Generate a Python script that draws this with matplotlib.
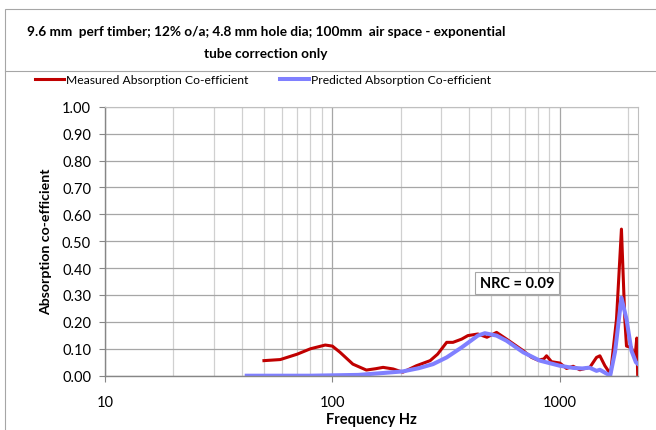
import matplotlib.pyplot as plt
from matplotlib.patches import Rectangle
from matplotlib.lines import Line2D
from matplotlib.ticker import FixedLocator, NullFormatter

# measured absorption
meas_f = [50, 59, 70, 80, 93, 100, 108, 123, 141, 155, 167, 185, 204, 234, 269,
          290, 318, 339, 370, 394, 436, 478, 527, 583, 690, 751, 800, 850, 874,
          919, 1000, 1070, 1144, 1224, 1355, 1450, 1500, 1578, 1670, 1775, 1866,
          1931, 1964, 2065, 2137, 2180, 2200]
meas_a = [0.056, 0.060, 0.080, 0.100, 0.114, 0.110, 0.087, 0.043, 0.021, 0.026,
          0.031, 0.025, 0.013, 0.037, 0.056, 0.080, 0.124, 0.124, 0.136, 0.149,
          0.155, 0.143, 0.161, 0.136, 0.093, 0.068, 0.058, 0.062, 0.074, 0.052,
          0.047, 0.027, 0.035, 0.022, 0.031, 0.068, 0.074, 0.037, 0.006, 0.210,
          0.545, 0.210, 0.110, 0.105, 0.062, 0.140, 0.000]

# predicted absorption
pred_f = [42, 80, 130, 167, 204, 240, 277, 318, 370, 436, 468, 527, 583, 690,
          817, 1000, 1144, 1255, 1350, 1450, 1500, 1665, 1750, 1866, 1964, 2065,
          2160, 2195]
pred_a = [0.0, 0.0, 0.003, 0.010, 0.016, 0.028, 0.043, 0.068, 0.105, 0.149,
          0.158, 0.149, 0.130, 0.087, 0.056, 0.037, 0.029, 0.027, 0.030, 0.018,
          0.022, 0.0, 0.090, 0.290, 0.210, 0.093, 0.050, 0.045]

title = "9.6 mm  perf timber; 12% o/a; 4.8 mm hole dia; 100mm  air space - exponential\ntube correction only"
font = "Lato"

fig = plt.figure(figsize=(6.56, 4.31), dpi=100)
W, H = 656, 431

# chart border (cut off on the right and bottom) and title box
fig.patches.append(Rectangle((5 / W, -10 / H), 700 / W, 431 / H, transform=fig.transFigure,
                             fill=False, edgecolor="#a6a6a6", lw=0.8))
fig.lines.append(Line2D([5 / W, 1], [1 - 72 / H, 1 - 72 / H], transform=fig.transFigure,
                        color="#a6a6a6", lw=0.8))
fig.text(266 / W, 1 - 42.5 / H, title, ha="center", ma="center", va="center", fontsize=9.8,
         fontweight="bold", family=font, linespacing=2.0)

ax = fig.add_axes([105 / W, 1 - 376.7 / H, 532.7 / W, 269 / H])
ax.plot(meas_f, meas_a, color="#c00000", lw=2.2, label="Measured Absorption Co-efficient",
        solid_joinstyle="round")
ax.plot(pred_f, pred_a, color="#8080ff", lw=2.9, label="Predicted Absorption Co-efficient",
        solid_joinstyle="round")

ax.set_xscale("log")
ax.set_xlim(10, 2200)
ax.set_ylim(0, 1.0)
ax.set_yticks([i / 10 for i in range(11)])
ax.set_yticklabels([f"{i / 10:.2f}" for i in range(11)])
ax.xaxis.set_major_locator(FixedLocator([10, 100, 1000]))
ax.set_xticklabels(["10", "100", "1000"])
minors = [m * d for d in (10, 100, 1000) for m in range(2, 10) if m * d < 2200]
ax.xaxis.set_minor_locator(FixedLocator(minors))
ax.xaxis.set_minor_formatter(NullFormatter())

ax.grid(True, which="major", color="#a6a6a6", lw=0.9)
ax.grid(True, which="minor", axis="x", color="#d0d0d0", lw=0.9)
ax.set_axisbelow(True)
for s in ("top", "right"):
    ax.spines[s].set_color("#bfbfbf")
for s in ("left", "bottom"):
    ax.spines[s].set_color("#868686")
    ax.spines[s].set_linewidth(1.0)
ax.tick_params(axis="both", which="major", colors="#868686", labelcolor="black",
               labelsize=10.5, length=4)
ax.tick_params(axis="y", pad=6)
ax.tick_params(axis="x", which="minor", length=0)
ax.tick_params(axis="x", pad=10)
for lab in ax.get_xticklabels() + ax.get_yticklabels():
    lab.set_family(font)

ax.set_xlabel("Frequency Hz", fontsize=10.5, fontweight="bold", family=font, labelpad=2)
ax.set_ylabel("Absorption co-efficient", fontsize=10.2, fontweight="bold", family=font,
              labelpad=7)

ax.text(517 / W, 1 - 284 / H, "NRC = 0.09", transform=fig.transFigure, ha="center",
        va="center", fontsize=10.5, fontweight="bold", family=font,
        bbox=dict(boxstyle="square,pad=0.3", fc="white", ec="#a6a6a6", lw=0.8))

fig.legend(loc="center", bbox_to_anchor=(263 / W, 1 - 81 / H), ncol=2, frameon=False,
           prop={"family": font, "size": 8.7}, handlelength=2.4, handletextpad=0.15,
           columnspacing=2.6)

fig.savefig("out.png", dpi=100)
